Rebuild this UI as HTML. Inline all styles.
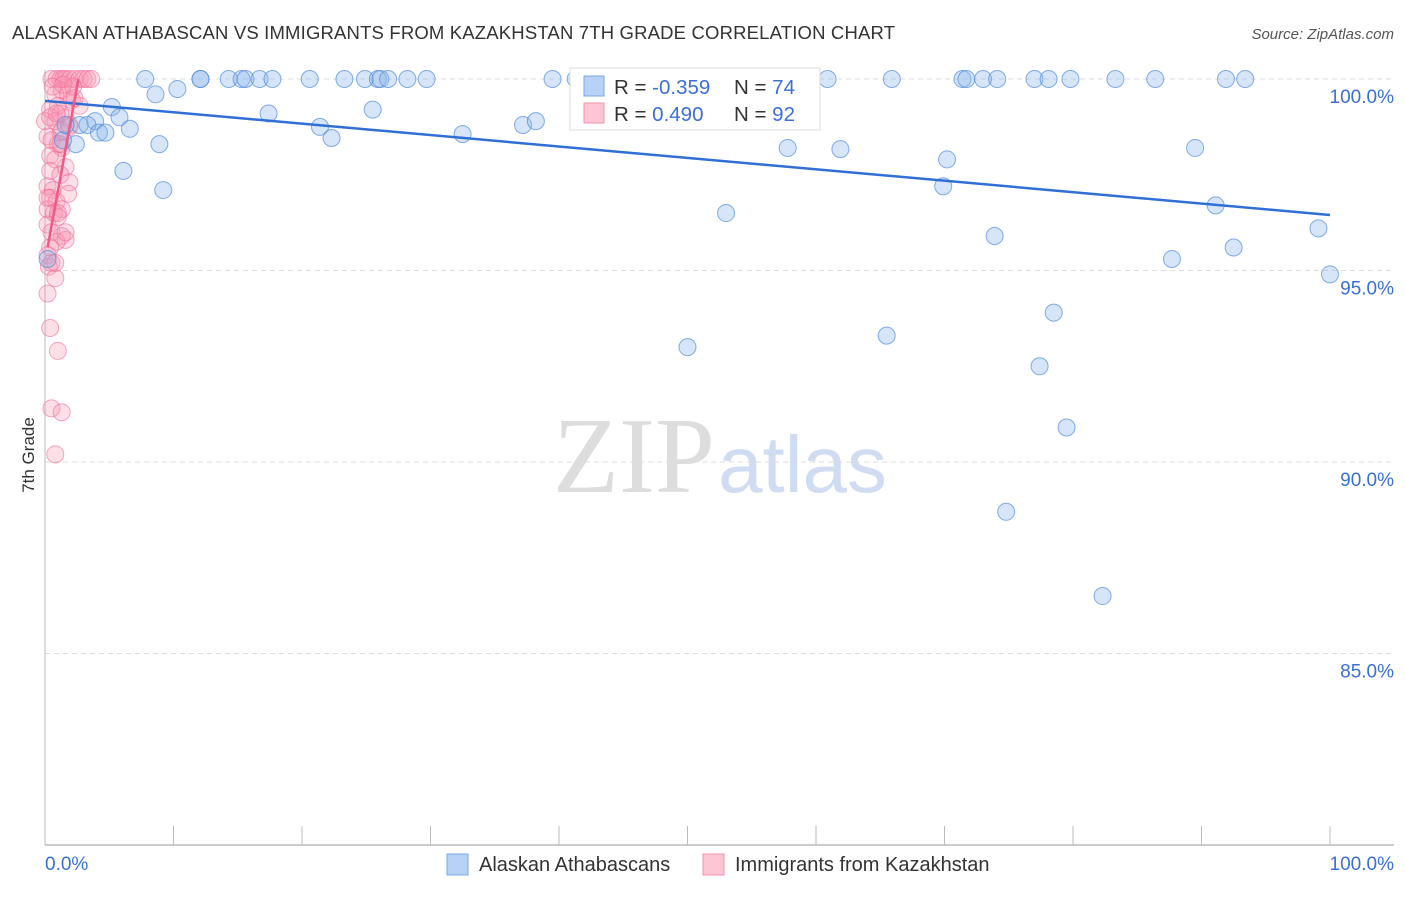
<!DOCTYPE html>
<html><head><meta charset="utf-8"><style>
body{margin:0;background:#fff;font-family:"Liberation Sans",sans-serif}
svg text{font-family:"Liberation Sans",sans-serif}
</style></head><body>
<svg id="c" width="1406" height="892" xmlns="http://www.w3.org/2000/svg">
<text x="12" y="39" font-size="18.5" fill="#333" textLength="883">ALASKAN ATHABASCAN VS IMMIGRANTS FROM KAZAKHSTAN 7TH GRADE CORRELATION CHART</text>
<text x="1394" y="39" font-size="15" fill="#555" text-anchor="end" font-style="italic">Source: ZipAtlas.com</text>
<text x="34" y="455" font-size="17" fill="#333" transform="rotate(-90 34 455)" text-anchor="middle">7th Grade</text>
<text x="553" y="492" font-size="108" fill="#ddd" style="font-family:'Liberation Serif',serif">ZIP</text>
<text x="718" y="492" font-size="80" fill="#cfdcf2">atlas</text>
<g id="grid"></g><g id="marks"></g>
<g>
<rect x="570" y="68" width="250" height="62" fill="#fff" stroke="#ddd"/>
<rect x="584" y="76" width="20" height="20" fill="#b8d2f5" stroke="#7aa7e6"/>
<text x="614" y="94" font-size="20.5" fill="#333">R = <tspan fill="#3a6fd8">-0.359</tspan></text>
<text x="734" y="94" font-size="20.5" fill="#333">N = <tspan fill="#3a6fd8">74</tspan></text>
<rect x="584" y="103" width="20" height="20" fill="#fcc6d4" stroke="#f093ad"/>
<text x="614" y="121" font-size="20.5" fill="#333">R = <tspan fill="#3a6fd8"> 0.490</tspan></text>
<text x="734" y="121" font-size="20.5" fill="#333">N = <tspan fill="#3a6fd8">92</tspan></text>
</g>
<g>
<rect x="447" y="854" width="21" height="21" fill="#b8d2f5" stroke="#7aa7e6"/>
<text x="479" y="871" font-size="20" fill="#333">Alaskan Athabascans</text>
<rect x="703" y="854" width="21" height="21" fill="#fcc6d4" stroke="#f093ad"/>
<text x="735" y="871" font-size="20" fill="#333">Immigrants from Kazakhstan</text>
</g>
<text x="45" y="870" font-size="19" fill="#3a6fd8">0.0%</text>
<text x="1394" y="870" font-size="19" fill="#3a6fd8" text-anchor="end">100.0%</text>
</svg>
<script>
const yTicks=[100,95,90,85];
const blueX=[7.8,12.1,12.1,14.3,15.3,15.6,16.7,17.7,20.6,23.3,24.9,25.9,26.1,26.7,28.2,29.7,39.5,41.3,60.9,65.9,71.4,71.7,73.0,74.1,77.0,78.1,79.8,83.3,86.4,91.9,93.4,8.6,10.3,5.2,5.8,3.9,2.7,3.3,6.6,4.2,4.7,2.4,8.9,6.1,9.2,17.4,21.4,22.3,25.5,32.5,37.2,38.2,57.8,61.9,70.2,69.9,53.0,73.9,89.5,91.1,92.5,99.1,100.0,87.7,78.5,50.0,65.5,77.4,79.5,74.8,82.3,0.2,1.4,1.6];
const blueY=[100,100,100,100,100,100,100,100,100,100,100,100,100,100,100,100,100,100,100,100,100,100,100,100,100,100,100,100,100,100,100,99.6,99.74,99.27,99.0,98.9,98.8,98.8,98.7,98.6,98.6,98.3,98.3,97.6,97.1,99.1,98.75,98.46,99.2,98.56,98.8,98.9,98.2,98.17,97.9,97.2,96.5,95.9,98.2,96.7,95.6,96.1,94.9,95.3,93.9,93.0,93.3,92.5,90.9,88.7,86.5,95.3,98.4,98.8];
const pinkX=[0.5,0.9,1.2,1.4,1.6,1.9,2.3,2.7,3.0,3.3,3.6,1.3,0.8,1.8,2.1,1.0,0.4,2.7,1.6,0.8,1.9,1.2,0.2,0.5,1.0,1.3,0.4,0.8,1.6,0.4,1.2,0.2,0.6,1.9,1.8,0.4,0.9,0.2,1.3,0.7,1.0,0.2,0.5,1.3,1.6,0.9,0.4,0.2,0.5,0.3,0.8,0.2,0.4,1.0,0.5,1.3,0.8,1.2,0.0,2.3,1.4,0.6,0.2,1.0,1.6,0.8,1.2,0.4,1.3,0.9,1.9,2.2];
const pinkY=[100,100,100,100,100,100,100,100,100,100,100,99.7,99.6,99.6,99.45,99.3,99.2,99.3,99.0,98.9,98.8,98.6,98.5,98.4,98.3,98.2,98.0,97.9,97.7,97.6,97.5,97.2,97.1,97.3,97.0,96.9,96.8,96.6,96.6,96.5,96.4,96.2,96.0,95.9,95.8,95.75,95.6,95.4,95.2,95.1,94.8,94.4,93.5,92.9,91.4,91.3,90.2,99.1,98.9,99.5,99.85,99.8,96.9,96.5,96.0,95.2,98.3,99.0,98.65,99.1,98.75,99.8];
const X=v=>45+v*12.85, Y=v=>79+(100-v)*38.3;
const NS='http://www.w3.org/2000/svg';
const g=document.getElementById('grid'), m=document.getElementById('marks');
function el(t,a,p){const e=document.createElementNS(NS,t);for(const k in a)e.setAttribute(k,a[k]);p.appendChild(e);return e;}
yTicks.forEach(t=>{
 const l=el('line',{x1:45,x2:1394,y1:Y(t),y2:Y(t),stroke:'#ddd','stroke-dasharray':'5,4'},g);
 
 
 const tx=el('text',{x:1394,y:Y(t)+24,'font-size':19,fill:'#3a6fd8','text-anchor':'end'},g);
 tx.textContent=t.toFixed(1)+'%';
 
 
});
const ax=el('line',{x1:45,x2:1394,y1:845,y2:845,stroke:'#bbb','stroke-width':1.5},g);


const ay=el('line',{x1:45,x2:45,y1:70,y2:845,stroke:'#bbb'},g);


for(let i=0;i<=10;i++){const tk=el('line',{x1:X(i*10),x2:X(i*10),y1:826,y2:845,stroke:'#bbb'},g);
 
 }
pinkX.forEach((x,i)=>{const c=el('circle',{cx:X(x),cy:Y(pinkY[i]),r:8.5,fill:'rgba(247,150,180,0.3)',stroke:'rgba(240,110,150,0.6)'},m);
 
 });
blueX.forEach((x,i)=>{const c=el('circle',{cx:X(x),cy:Y(blueY[i]),r:8.5,fill:'rgba(140,180,235,0.35)',stroke:'rgba(80,140,220,0.7)'},m);
 
 });
const bl=el('line',{x1:X(0),y1:Y(99.43),x2:X(100),y2:Y(96.45),stroke:'#2f6fd6','stroke-width':2.5},m);


const pl=el('line',{x1:X(0.2),y1:Y(95.6),x2:X(2.6),y2:Y(100),stroke:'#ec5a88','stroke-width':2.5},m);


</script>
</body></html>
